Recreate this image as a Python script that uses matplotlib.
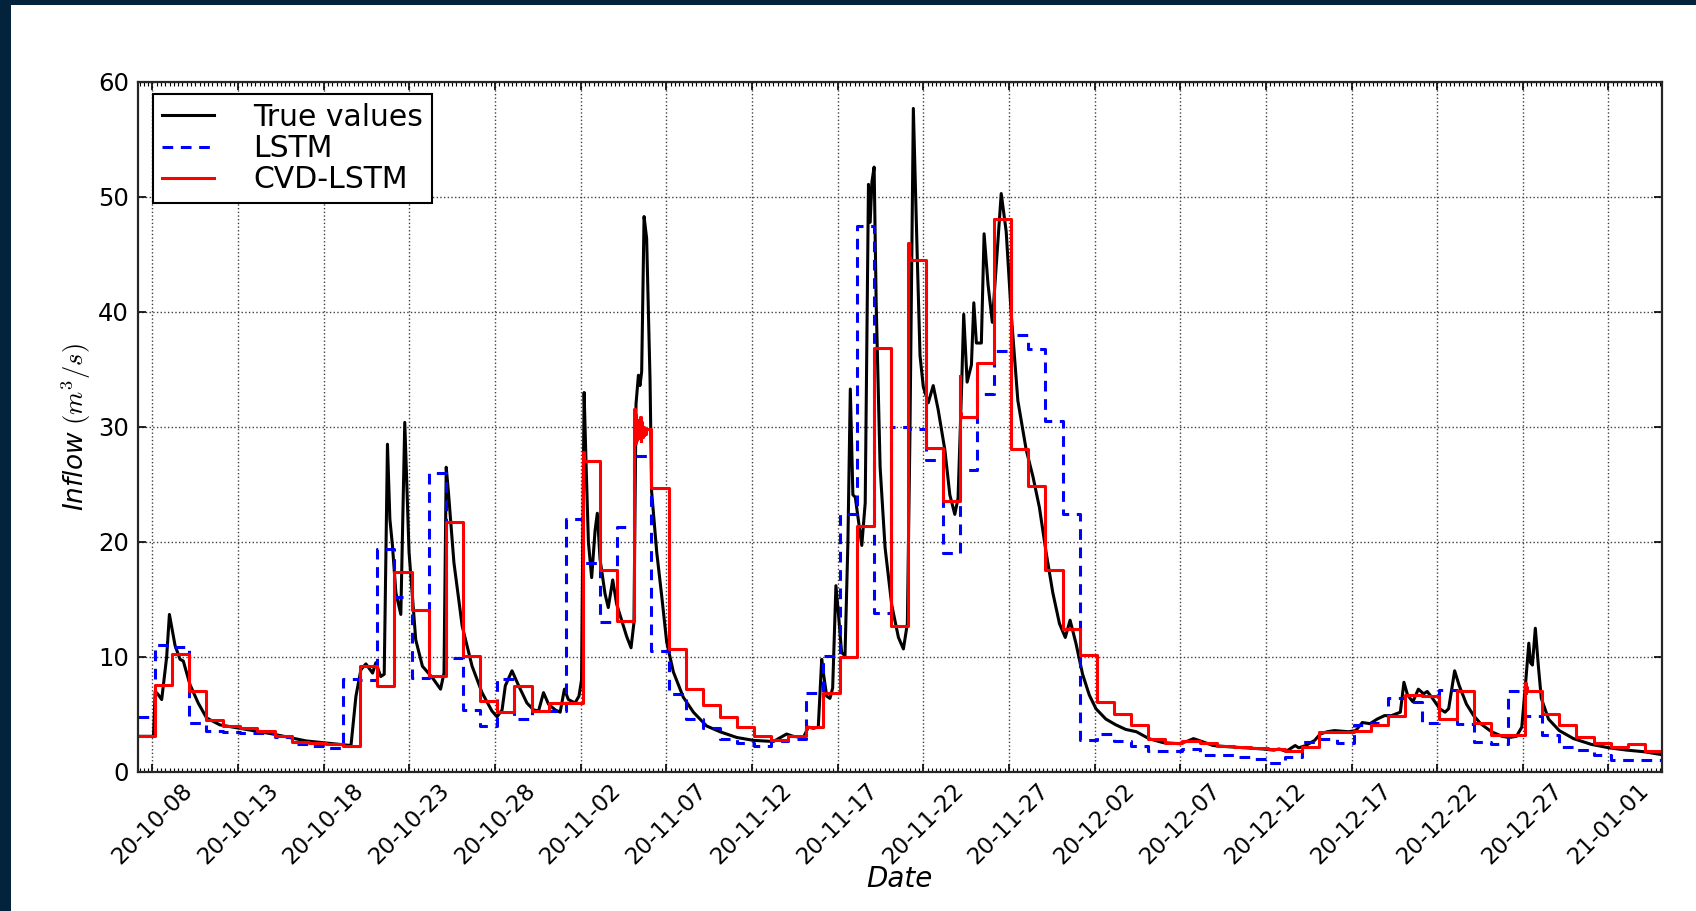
import matplotlib
matplotlib.use("Agg")
import matplotlib.pyplot as plt
import matplotlib.dates as mdates
from matplotlib.patches import Rectangle
import pandas as pd

plt.rcParams['font.family'] = ['DejaVu Sans']
plt.rcParams['mathtext.fontset'] = 'custom'
plt.rcParams['mathtext.sf'] = 'DejaVu Sans:italic'
plt.rcParams['mathtext.it'] = 'cmmi10'
plt.rcParams['mathtext.rm'] = 'cmr10'

base = pd.Timestamp('2020-10-07')
start = 0.13      # first hour of the series, in days after base
end = 89.13

true_days = [0.13, 1.06, 1.16, 1.3, 1.54, 1.83, 1.99, 2.32, 2.61, 2.8, 3.19, 3.67, 4.16, 4.93,
             6.1, 8.03, 9.97, 11.91, 12.59, 12.88, 13.17, 13.46, 13.85, 14.04, 14.33, 14.53,
             14.72, 14.86, 15.01, 15.21, 15.5, 15.73, 15.98, 16.37, 16.76, 17.34, 17.82, 18.02,
             18.15, 18.27, 18.6, 19.08, 19.66, 20.24, 20.82, 21.12, 21.41, 21.6, 21.99, 22.38,
             22.86, 23.25, 23.54, 23.83, 24.12, 24.51, 24.8, 25.05, 25.28, 25.67, 25.9, 26.05,
             26.2, 26.31, 26.45, 26.64, 26.84, 26.97, 27.13, 27.42, 27.61, 27.87, 28.1, 28.39,
             28.68, 28.94, 29.11, 29.23, 29.37, 29.46, 29.56, 29.7, 29.85, 30.05, 30.14, 30.44,
             30.73, 31.02, 31.41, 31.99, 32.58, 33.35, 34.13, 35.11, 36.08, 37.25, 38.02, 38.41,
             39.0, 39.29, 39.58, 39.87, 40.07, 40.16, 40.36, 40.55, 40.71, 40.9, 41.04, 41.23,
             41.43, 41.6, 41.74, 41.89, 42.03, 42.22, 42.41, 42.61, 42.8, 42.9, 43.0, 43.13,
             43.25, 43.48, 43.77, 44.16, 44.55, 44.84, 45.07, 45.22, 45.42, 45.65, 45.81, 46.0,
             46.29, 46.58, 46.87, 47.26, 47.55, 47.84, 48.03, 48.23, 48.36, 48.56, 48.81, 48.95,
             49.1, 49.39, 49.55, 49.78, 50.03, 50.26, 50.55, 50.84, 51.14, 51.52, 52.01, 52.4,
             52.78, 53.17, 53.56, 53.95, 54.29, 54.57, 54.91, 55.3, 55.69, 56.08, 56.66, 57.24,
             57.82, 58.44, 59.17, 60.0, 60.94, 61.46, 61.77, 62.08, 62.92, 63.75, 64.79, 65.83,
             66.46, 66.77, 67.19, 67.71, 67.92, 68.33, 68.85, 69.17, 69.58, 70.0, 70.83, 71.25,
             71.63, 72.08, 72.5, 72.92, 73.33, 73.85, 74.06, 74.27, 74.58, 74.9, 75.21, 75.42,
             75.73, 76.15, 76.46, 76.67, 76.88, 77.02, 77.29, 77.71, 78.13, 78.54, 79.17, 79.79,
             80.21, 80.63, 80.94, 81.15, 81.35, 81.45, 81.56, 81.73, 81.92, 82.08, 82.5, 83.13,
             83.96, 85.0, 86.04, 87.08, 88.13, 89.13]
true_vals = [3.1, 3.1, 7.0, 6.8, 6.3, 10.0, 13.7, 11.0, 9.8, 9.65, 7.6, 6.0, 4.7, 4.1,
             3.8, 3.3, 2.7, 2.4, 2.3, 6.6, 8.9, 9.4, 8.6, 9.5, 8.3, 8.5,
             28.5, 22.0, 19.7, 15.6, 13.7, 30.4, 19.1, 11.5, 9.2, 8.2, 7.2, 8.6,
             26.5, 24.5, 18.2, 12.7, 9.2, 6.9, 5.3, 4.8, 5.4, 7.5, 8.8, 7.5,
             6.0, 5.4, 5.3, 6.9, 5.9, 5.4, 5.2, 7.2, 6.3, 6.0, 6.6, 8.0,
             33.0, 27.0, 20.0, 16.9, 21.0, 22.5, 18.5, 15.5, 14.3, 16.7, 14.6, 13.2,
             11.8, 10.8, 13.0, 32.0, 34.5, 33.6, 34.8, 48.3, 46.4, 34.0, 24.4, 19.1,
             15.3, 11.3, 8.7, 6.5, 5.2, 4.0, 3.5, 3.0, 2.75, 2.65, 3.3, 3.1,
             3.0, 3.9, 3.8, 3.9, 9.8, 8.7, 6.6, 6.4, 7.3, 16.2, 13.9, 10.4,
             10.1, 20.0, 33.3, 24.1, 23.9, 21.8, 19.7, 23.4, 51.1, 47.8, 51.3, 52.6,
             40.8, 26.5, 19.5, 14.5, 11.7, 10.7, 12.9, 29.2, 57.7, 44.7, 36.2, 33.5,
             32.1, 33.6, 31.5, 28.0, 24.1, 22.4, 23.8, 33.1, 39.8, 33.9, 35.4, 40.8,
             37.3, 37.3, 46.8, 42.4, 39.1, 44.0, 50.3, 47.0, 39.7, 32.3, 28.0, 25.7,
             23.0, 19.1, 15.6, 12.9, 11.7, 13.2, 11.2, 8.5, 6.7, 5.5, 4.6, 4.1,
             3.7, 3.5, 2.9, 2.55, 2.46, 2.7, 2.9, 2.75, 2.3, 2.2, 2.1, 2.0,
             1.9, 2.0, 1.8, 2.3, 2.1, 2.3, 2.75, 3.3, 3.5, 3.6, 3.5, 3.6,
             4.3, 4.2, 4.6, 4.9, 4.9, 5.2, 7.8, 6.7, 6.1, 7.2, 6.8, 7.0,
             6.4, 5.5, 5.2, 5.5, 7.5, 8.8, 7.5, 5.9, 4.9, 4.2, 3.5, 3.1,
             3.0, 3.1, 3.9, 7.5, 11.2, 9.5, 9.3, 12.5, 9.0, 6.4, 4.6, 3.6,
             2.9, 2.4, 2.1, 1.9, 1.75, 1.5]

# daily forecasts, one value per day starting at `start`
lstm_daily = [4.8, 11.0, 10.9, 4.3, 3.6, 3.5, 3.4, 3.4, 3.0, 2.4, 2.3, 2.1, 8.1, 8.0,
              19.4, 15.2, 8.2, 26.0, 9.9, 5.4, 4.0, 8.1, 4.6, 5.3, 5.3, 22.0, 18.2, 13.0,
              21.3, 27.5, 10.5, 6.8, 4.6, 3.8, 2.9, 2.5, 2.3, 2.7, 2.9, 6.9, 10.1, 22.4,
              47.5, 13.8, 30.0, 29.8, 27.1, 19.0, 26.3, 32.9, 36.6, 38.0, 36.8, 30.5, 22.4,
              2.8, 3.3, 2.7, 2.3, 1.8, 1.8, 2.0, 1.5, 1.5, 1.3, 1.15, 0.8, 1.3, 2.6, 2.9,
              2.5, 4.1, 4.3, 6.4, 6.1, 4.3, 7.1, 4.2, 2.6, 2.4, 7.0, 4.9, 3.2, 2.2, 1.9,
              1.45, 1.0, 1.0, 1.0]
cvd_daily = [3.1, 7.6, 10.3, 7.0, 4.5, 4.0, 3.8, 3.6, 3.1, 2.6, 2.5, 2.4, 2.3, 9.2,
             7.5, 17.4, 14.1, 8.35, 21.7, 10.1, 6.2, 5.2, 7.5, 5.3, 6.0, 6.0, 27.0, 17.6,
             13.1, 29.8, 24.7, 10.7, 7.2, 5.8, 4.8, 3.95, 3.1, 2.8, 3.1, 3.9, 6.9, 10.0,
             21.4, 36.9, 12.7, 44.5, 28.2, 23.6, 30.9, 35.6, 48.1, 28.1, 24.9, 17.6, 12.4,
             10.2, 6.1, 5.0, 4.1, 2.9, 2.5, 2.7, 2.5, 2.3, 2.2, 2.1, 2.0, 1.8, 2.2, 3.5,
             3.5, 3.6, 4.1, 4.9, 6.7, 6.6, 4.6, 7.0, 4.3, 3.2, 3.2, 7.0, 5.0, 4.1, 3.0,
             2.5, 2.2, 2.4, 1.8]
# hourly wobble at the start of a few CVD-LSTM days
cvd_jitter = {26: [27.8, 27.2],
              29: [31.6, 28.6, 31.0, 28.9, 30.6, 29.0, 30.2, 29.2, 30.9, 28.8, 30.4, 29.1,
                   30.0, 29.3, 29.9, 29.4],
              45: [46.0, 44.8],
              48: [34.4, 31.2],
              81: [7.7, 6.9, 7.4]}

tick_dates = pd.date_range('2020-10-08', '2021-01-01', freq='5D')


def to_time(days):
    return base + pd.to_timedelta(days, unit='D')


def daily_steps(values, jitter=None):
    xs, ys = [], []
    for k, v in enumerate(values):
        extra = (jitter or {}).get(k, [])
        for j, e in enumerate(extra):
            xs.append(start + k + j / 24.0)
            ys.append(e)
        xs.append(start + k + len(extra) / 24.0)
        ys.append(v)
    xs.append(end)
    ys.append(values[-1])
    return to_time(xs), ys


fig = plt.figure(figsize=(16.96, 9.11), dpi=100)
ax = fig.add_axes([0.0811, 0.1526, 0.98 - 0.0811, 0.9100 - 0.1526])

ax.plot(to_time(true_days), true_vals, color='k', lw=2.2, label='True values')
lx, ly = daily_steps(lstm_daily)
ax.plot(lx, ly, color='b', lw=2.2, ls='--', dashes=(3.5, 2.5), drawstyle='steps-post',
        label='LSTM')
cx, cy = daily_steps(cvd_daily, cvd_jitter)
ax.plot(cx, cy, color='r', lw=2.2, drawstyle='steps-post', label='CVD-LSTM')

ax.set_xlim(to_time(start), to_time(end))
ax.set_ylim(0, 60)
ax.set_xticks(tick_dates)
ax.xaxis.set_major_formatter(mdates.DateFormatter('%y-%m-%d'))
ax.xaxis.set_minor_locator(mdates.HourLocator(byhour=[0, 6, 12, 18]))
ax.set_yticks(range(0, 61, 10))

ax.tick_params(which='both', direction='in', top=True, right=True, colors='k')
ax.tick_params(which='major', length=6, width=1.2, labelsize=17.5, pad=6)
ax.tick_params(axis='x', which='major', labelsize=16.5, pad=5)
ax.tick_params(which='minor', length=3, width=0.8)
for lab in ax.get_xticklabels():
    lab.set_rotation(45)
for sp in ax.spines.values():
    sp.set_linewidth(1.6)
    sp.set_color('0.15')

ax.grid(True, which='major', color='0.25', ls=':', lw=1.0)

ax.set_xlabel('Date', fontsize=20, style='italic', labelpad=-3)
ax.set_ylabel(r'$\mathsf{Inflow}\ (m^3/s)$', fontsize=19, labelpad=4)

leg = ax.legend(loc='upper left', bbox_to_anchor=(0.0102, 0.983), borderaxespad=0,
                fontsize=21.5, fancybox=False, framealpha=1, edgecolor='k',
                handlelength=1.75, handletextpad=1.3, labelspacing=0.08, borderpad=0.3)
leg.get_frame().set_linewidth(1.5)

# dark page border on the left and top edges
navy = '#03223b'
fig.add_artist(Rectangle((0, 0), 11 / 1696, 1, transform=fig.transFigure, color=navy, lw=0))
fig.add_artist(Rectangle((0, 1 - 5 / 911), 1, 5 / 911, transform=fig.transFigure, color=navy,
                         lw=0))

fig.savefig('out.png', dpi=100, facecolor='white')
